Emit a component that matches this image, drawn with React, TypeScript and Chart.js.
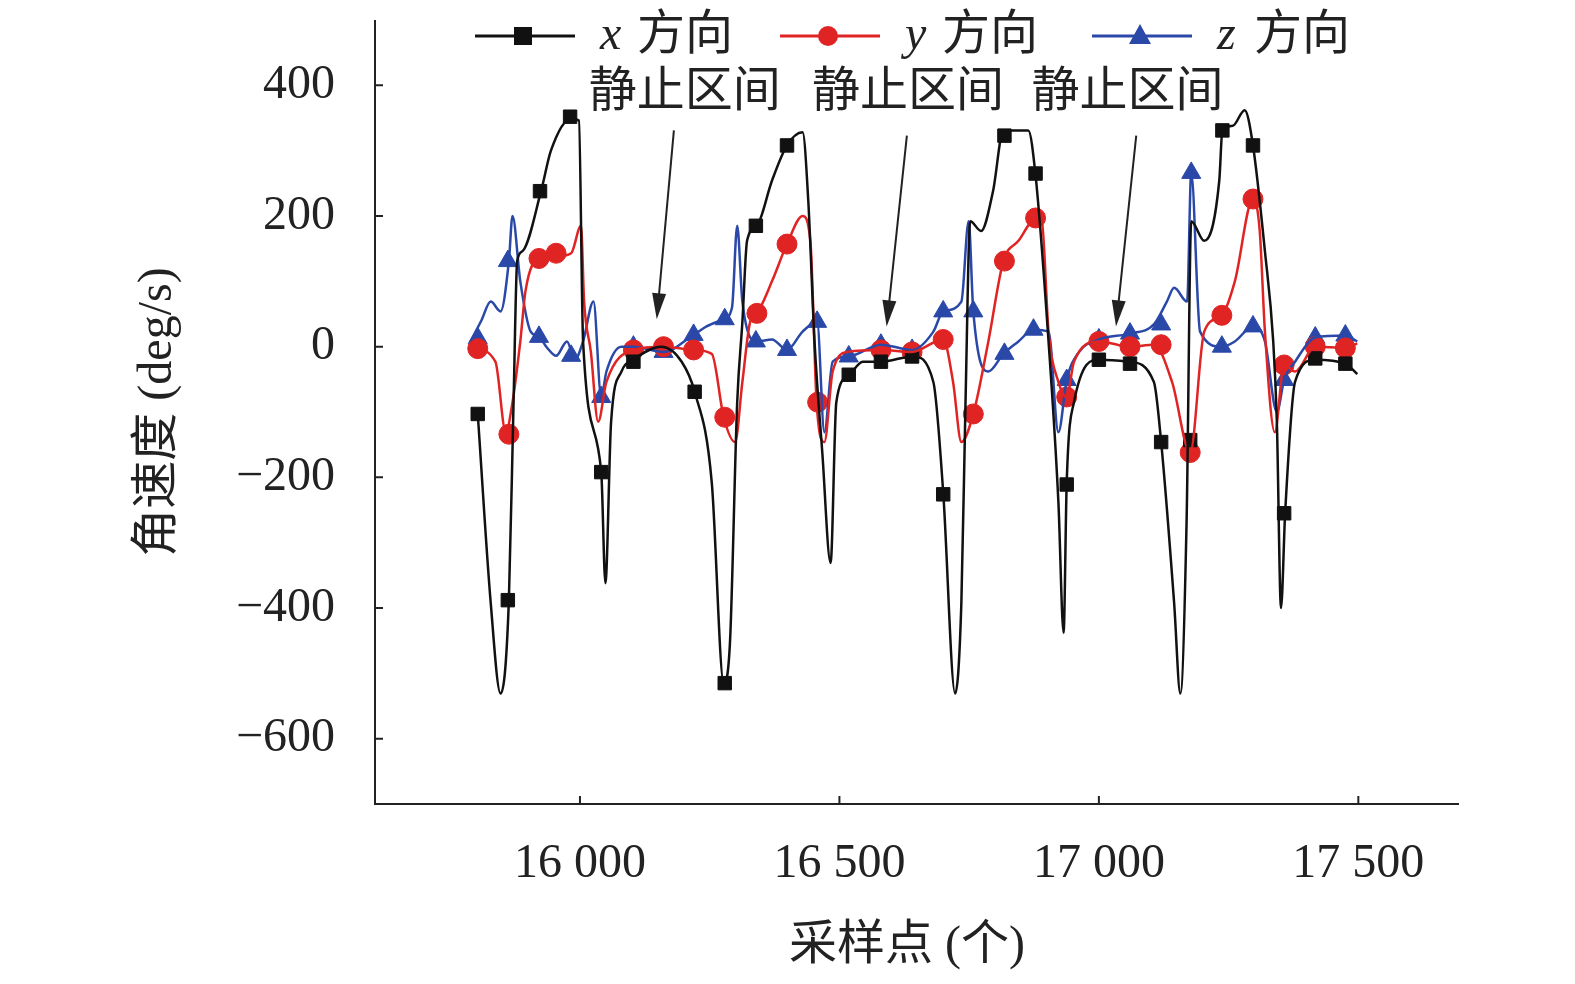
import React, { useEffect, useRef } from "react";
import { Chart, registerables } from "chart.js";
Chart.register(...registerables);

const X_TICKS = [16000, 16500, 17000, 17500];
const Y_TICKS = [-600, -400, -200, 0, 200, 400];

const xLine: [number, number][] = [
  [15803,-103],[15828,-392],[15847,-531],[15863,-388],[15872,-85],[15879,131],[15889,146],[15925,238],[15944,300],[15983,349],[15998,346],[16006,8],[16041,-192],[16049,-362],[16060,-115],[16080,-38],[16103,-20],[16157,0],[16196,-23],[16221,-69],[16254,-208],[16277,-515],[16289,-454],[16303,-85],[16313,38],[16322,162],[16341,185],[16370,254],[16399,308],[16429,328],[16440,223],[16452,8],[16467,-162],[16483,-331],[16494,-85],[16516,-46],[16545,-23],[16580,-23],[16642,-15],[16681,-54],[16700,-223],[16723,-531],[16735,-392],[16743,-85],[16752,192],[16773,177],[16796,238],[16816,331],[16864,331],[16878,262],[16903,8],[16922,-238],[16932,-438],[16938,-208],[16952,-85],[17000,-20],[17058,-23],[17106,-54],[17120,-146],[17145,-392],[17157,-531],[17169,-269],[17178,192],[17203,162],[17232,254],[17238,331],[17258,338],[17281,362],[17297,308],[17320,146],[17336,8],[17343,-115],[17351,-400],[17359,-254],[17378,-54],[17417,-20],[17475,-26],[17498,-42],
];
const xMarks: [number, number][] = [
  [15803,-103],[15861,-388],[15923,238],[15981,352],[16041,-192],[16103,-23],[16221,-69],[16279,-515],[16339,185],[16399,308],[16518,-43],[16580,-23],[16640,-15],[16700,-226],[16818,323],[16878,265],[16938,-211],[17000,-20],[17060,-26],[17120,-146],[17176,-143],[17238,331],[17297,308],[17357,-255],[17417,-18],[17475,-26],
];
const yLine: [number, number][] = [
  [15789,0],[15837,-23],[15857,-131],[15870,-85],[15885,8],[15895,85],[15921,135],[15954,138],[15983,143],[16002,185],[16008,69],[16021,-8],[16035,-115],[16051,-54],[16103,-5],[16161,0],[16219,-5],[16254,-11],[16277,-108],[16299,-146],[16313,-54],[16328,38],[16341,51],[16370,100],[16399,157],[16429,200],[16444,162],[16456,-85],[16471,-146],[16487,-38],[16516,-8],[16580,-5],[16640,-8],[16700,11],[16719,-54],[16735,-146],[16758,-103],[16787,8],[16816,131],[16845,162],[16878,195],[16890,192],[16903,23],[16922,-54],[16938,-77],[16952,-23],[17000,8],[17060,0],[17106,3],[17141,-54],[17176,-162],[17203,23],[17237,48],[17262,100],[17297,226],[17310,177],[17320,23],[17339,-131],[17357,-28],[17378,-38],[17417,0],[17475,-2],[17498,5],
];
const yMarks: [number, number][] = [
  [15803,-3],[15863,-134],[15921,135],[15954,143],[16103,-5],[16161,0],[16219,-5],[16279,-108],[16341,51],[16399,157],[16458,-85],[16580,-5],[16640,-8],[16700,11],[16758,-103],[16818,131],[16878,197],[16938,-77],[17000,8],[17060,0],[17120,3],[17176,-162],[17237,48],[17297,226],[17357,-28],[17417,0],[17475,-2],
];
const zLine: [number, number][] = [
  [15789,8],[15810,40],[15828,69],[15847,54],[15863,131],[15870,200],[15885,100],[15905,23],[15921,15],[15937,-2],[15954,-14],[15975,8],[15990,-20],[16006,8],[16026,69],[16041,-77],[16051,-38],[16080,0],[16103,0],[16161,-8],[16219,18],[16244,31],[16277,42],[16293,60],[16303,185],[16313,69],[16341,8],[16370,11],[16399,-5],[16429,23],[16457,38],[16471,-131],[16487,-23],[16518,-15],[16580,3],[16640,-5],[16681,23],[16700,54],[16735,69],[16749,192],[16758,54],[16787,-38],[16816,-11],[16845,8],[16874,26],[16903,23],[16922,-131],[16938,-51],[16962,-8],[17000,11],[17060,20],[17106,34],[17131,69],[17145,90],[17170,69],[17178,266],[17195,23],[17237,0],[17262,8],[17297,31],[17320,8],[17343,-100],[17357,-51],[17378,-23],[17417,14],[17475,17],[17498,8],
];
const zMarks: [number, number][] = [
  [15803,13],[15861,131],[15921,15],[15983,-14],[16041,-77],[16103,0],[16161,-8],[16219,18],[16279,42],[16339,8],[16399,-5],[16457,38],[16518,-15],[16580,3],[16640,-5],[16700,54],[16758,54],[16818,-11],[16874,26],[16938,-51],[17000,11],[17060,20],[17120,34],[17178,266],[17237,0],[17297,31],[17357,-51],[17417,14],[17475,17],
];

const FONT = "'Liberation Serif', 'Noto Sans CJK SC', serif";
const COLORS = { x: "#111111", y: "#e02424", z: "#2a48a8" };

const toXY = (a: [number, number][]) => a.map(([x, y]) => ({ x, y }));

function marker(ctx: CanvasRenderingContext2D, style: string, x: number, y: number, color: string) {
  ctx.fillStyle = color;
  ctx.beginPath();
  if (style === "rect") ctx.rect(x - 9, y - 9, 18, 18);
  else if (style === "circle") ctx.arc(x, y, 10, 0, Math.PI * 2);
  else { ctx.moveTo(x, y - 12); ctx.lineTo(x + 11, y + 8); ctx.lineTo(x - 11, y + 8); ctx.closePath(); }
  ctx.fill();
}

const decor = {
  id: "decor",
  afterDraw(chart: any) {
    const ctx: CanvasRenderingContext2D = chart.ctx;
    const xs = chart.scales.x, ys = chart.scales.y;
    const { left, right, top, bottom } = chart.chartArea;
    ctx.save();
    ctx.strokeStyle = "#222"; ctx.lineWidth = 2;
    ctx.beginPath();
    ctx.moveTo(left, top); ctx.lineTo(left, bottom); ctx.lineTo(right, bottom);
    for (const t of Y_TICKS) { const p = ys.getPixelForValue(t); ctx.moveTo(left, p); ctx.lineTo(left + 8, p); }
    for (const t of X_TICKS) { const p = xs.getPixelForValue(t); ctx.moveTo(p, bottom); ctx.lineTo(p, bottom - 8); }
    ctx.stroke();
    ctx.fillStyle = "#222";
    ctx.font = `48px ${FONT}`;
    ctx.textBaseline = "middle";
    ctx.textAlign = "right";
    for (const t of Y_TICKS) ctx.fillText(t < 0 ? "−" + Math.abs(t) : String(t), left - 40, ys.getPixelForValue(t));
    ctx.textAlign = "center";
    for (const t of X_TICKS) {
      const s = String(t);
      ctx.fillText(s.slice(0, 2) + " " + s.slice(2), xs.getPixelForValue(t), bottom + 60);
    }
    ctx.fillText("采样点 (个)", (left + right) / 2 - 10, bottom + 142);
    ctx.save();
    ctx.translate(158, ys.getPixelForValue(-100));
    ctx.rotate(-Math.PI / 2);
    ctx.fillText("角速度 (deg/s)", 0, 0);
    ctx.restore();
    const ann = [
      [16202, 16181, 331, 16148, 42],
      [16632, 16630, 323, 16591, 31],
      [17055, 17072, 323, 17033, 31],
    ];
    for (const [tx, sx, sy, ex, ey] of ann) {
      ctx.fillStyle = "#222";
      ctx.fillText("静止区间", xs.getPixelForValue(tx), ys.getPixelForValue(388));
      const x1 = xs.getPixelForValue(sx), y1 = ys.getPixelForValue(sy);
      const x2 = xs.getPixelForValue(ex), y2 = ys.getPixelForValue(ey);
      const ang = Math.atan2(y2 - y1, x2 - x1);
      ctx.beginPath(); ctx.moveTo(x1, y1);
      ctx.lineTo(x2 - 20 * Math.cos(ang), y2 - 20 * Math.sin(ang)); ctx.stroke();
      ctx.beginPath();
      ctx.moveTo(x2, y2);
      ctx.lineTo(x2 - 26 * Math.cos(ang) + 7 * Math.sin(ang), y2 - 26 * Math.sin(ang) - 7 * Math.cos(ang));
      ctx.lineTo(x2 - 26 * Math.cos(ang) - 7 * Math.sin(ang), y2 - 26 * Math.sin(ang) + 7 * Math.cos(ang));
      ctx.closePath(); ctx.fill();
    }
    const leg: [number, string, string, string][] = [
      [475, COLORS.x, "rect", "x"],
      [780, COLORS.y, "circle", "y"],
      [1092, COLORS.z, "triangle", "z"],
    ];
    ctx.textAlign = "left";
    for (const [lx, c, st, lab] of leg) {
      ctx.strokeStyle = c; ctx.lineWidth = 3;
      ctx.beginPath(); ctx.moveTo(lx, 36); ctx.lineTo(lx + 100, 36); ctx.stroke();
      marker(ctx, st, lx + 48, 36, c);
      ctx.fillStyle = "#222";
      ctx.font = `italic 48px ${FONT}`;
      ctx.fillText(lab, lx + 125, 36);
      ctx.font = `48px ${FONT}`;
      ctx.fillText("方向", lx + 162, 36);
    }
    ctx.restore();
  },
};

export default function App() {
  const ref = useRef<HTMLCanvasElement>(null);
  useEffect(() => {
    const lineDs = (data: [number, number][], c: string) => ({
      type: "line" as const, data: toXY(data), borderColor: c, borderWidth: 2.5,
      pointRadius: 0, tension: 0.3, cubicInterpolationMode: "monotone" as const,
    });
    const markDs = (data: [number, number][], c: string, st: string) => ({
      type: "scatter" as const, data: toXY(data), backgroundColor: c, borderColor: c,
      pointStyle: st, pointRadius: st === "triangle" ? 11 : st === "circle" ? 10 : 9.5, showLine: false,
    });
    const chart = new Chart(ref.current!, {
      type: "scatter",
      data: {
        datasets: [
          lineDs(xLine, COLORS.x), lineDs(yLine, COLORS.y), lineDs(zLine, COLORS.z),
          markDs(xMarks, COLORS.x, "rect"), markDs(yMarks, COLORS.y, "circle"), markDs(zMarks, COLORS.z, "triangle"),
        ] as any,
      },
      options: {
        animation: false, responsive: false,
        layout: { padding: { top: 20, right: 116, left: 0, bottom: 0 } },
        plugins: { legend: { display: false }, tooltip: { enabled: false } },
        scales: {
          x: {
            type: "linear", min: 15605, max: 17694,
            ticks: { display: false }, grid: { display: false }, border: { display: false },
            afterFit: (s: any) => { s.height = 180; },
          },
          y: {
            min: -700, max: 500,
            ticks: { display: false }, grid: { display: false }, border: { display: false },
            afterFit: (s: any) => { s.width = 375; },
          },
        },
      },
      plugins: [decor],
    });
    return () => chart.destroy();
  }, []);
  return (
    <div style={{ position: "absolute", left: 0, top: 0, width: 1575, height: 984, background: "#fff" }}>
      <canvas ref={ref} width={1575} height={984} />
    </div>
  );
}
